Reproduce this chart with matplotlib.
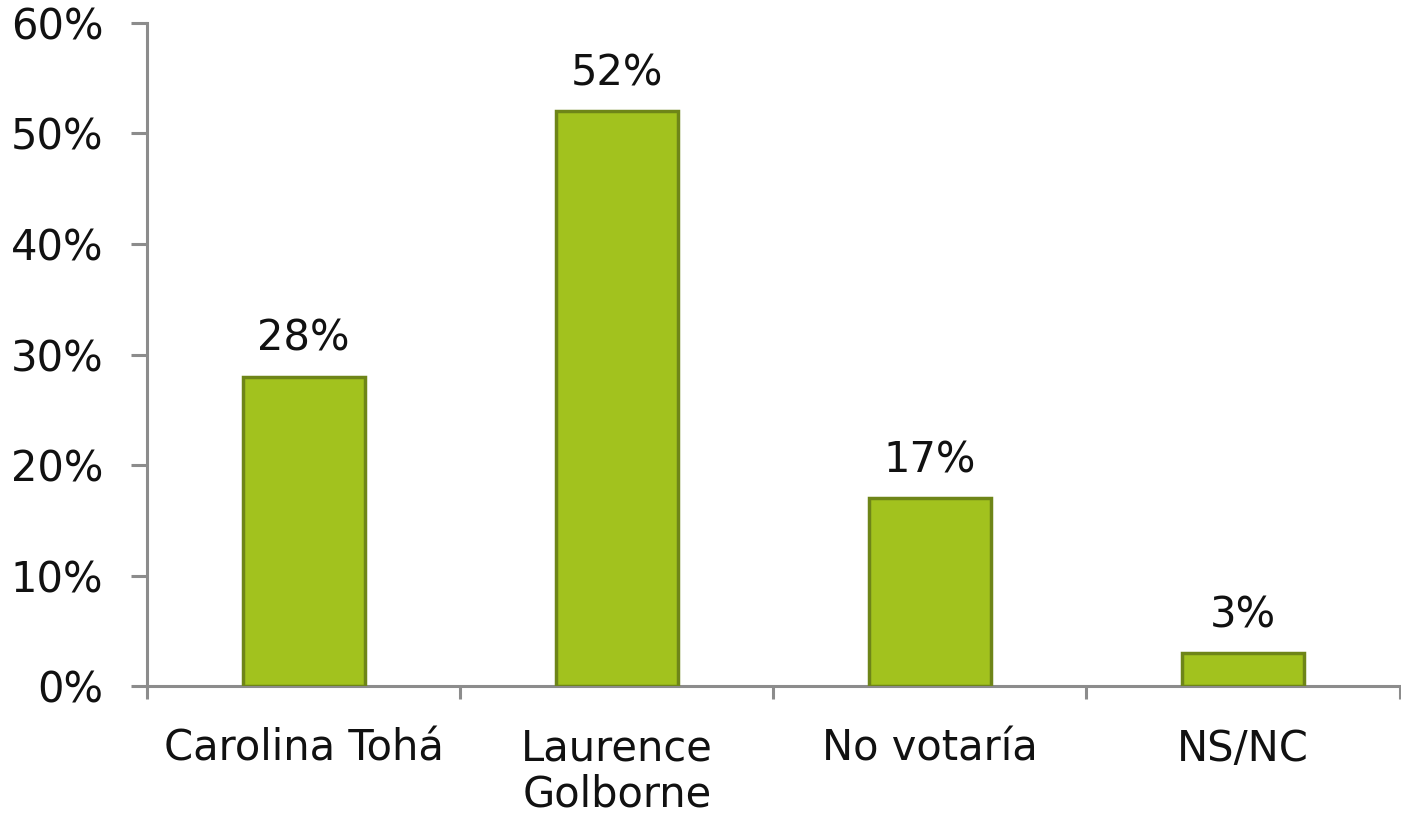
import matplotlib.pyplot as plt
from matplotlib.ticker import FixedLocator, PercentFormatter

categories = ["Carolina Tohá", "Laurence\nGolborne", "No votaría", "NS/NC"]
values = [28, 52, 17, 3]
yticks = [0, 10, 20, 30, 40, 50, 60]

bar_color = "#a2c21e"
edge_color = "#6e8518"
axis_color = "#8c8c8c"

plt.rcParams['font.family'] = ['DejaVu Sans']

fig = plt.figure(figsize=(14.01, 8.15), dpi=100)
ax = fig.add_axes([0.105, 0.158, 0.894, 0.814])

x = list(range(len(categories)))
bars = ax.bar(x, values, width=0.39, color=bar_color, edgecolor=edge_color,
              linewidth=2.5, zorder=3)

# value labels above bars
for xi, v in zip(x, values):
    ax.annotate(f"{v}%", (xi, v), xytext=(0, 12), textcoords="offset points",
                ha="center", va="bottom", fontsize=30, color="#111111")

ax.set_xlim(-0.5, len(categories) - 0.5)
ax.set_ylim(0, 60)
ax.set_yticks(yticks)
ax.yaxis.set_major_formatter(PercentFormatter(decimals=0))

ax.set_xticks(x)
ax.set_xticklabels(categories, linespacing=1.1)
ax.xaxis.set_minor_locator(FixedLocator([i - 0.5 for i in range(len(categories) + 1)]))

for side in ["top", "right"]:
    ax.spines[side].set_visible(False)
for side in ["left", "bottom"]:
    ax.spines[side].set_color(axis_color)
    ax.spines[side].set_linewidth(2.2)

ax.tick_params(axis="y", direction="out", length=11.5, width=2.2, color=axis_color,
               labelsize=30, pad=20, labelcolor="#111111")
ax.tick_params(axis="x", which="major", length=0, labelsize=30, pad=30,
               labelcolor="#111111")
ax.tick_params(axis="x", which="minor", direction="out", length=9.5, width=2.2,
               color=axis_color)

fig.savefig("out.png", dpi=100)
